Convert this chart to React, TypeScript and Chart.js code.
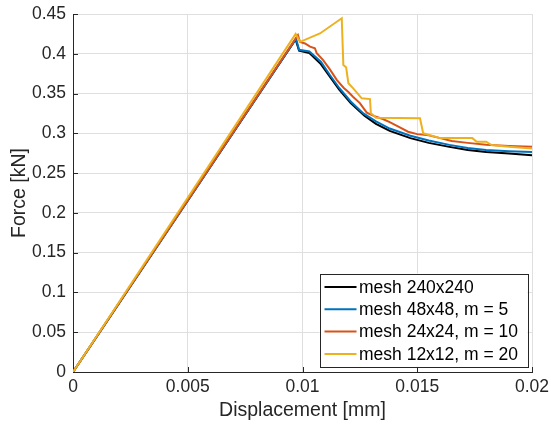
import React, { useEffect, useRef } from "react";
import { Chart, registerables } from "chart.js";

Chart.register(...registerables);

const seriesLabels = ["mesh 240x240", "mesh 48x48, m = 5", "mesh 24x24, m = 10", "mesh 12x12, m = 20"];
const seriesColors = ["#000000", "#0072BD", "#D95319", "#EDB120"];

const dispBlack = [0, 0.0097, 0.00985, 0.0103, 0.0108, 0.0112, 0.0116, 0.0121, 0.0127, 0.0132, 0.0138, 0.0147, 0.0155, 0.0164, 0.0172, 0.018, 0.019, 0.02];
const forceBlack = [0, 0.418, 0.404, 0.401, 0.387, 0.371, 0.355, 0.338, 0.322, 0.312, 0.303, 0.294, 0.288, 0.283, 0.279, 0.2765, 0.2745, 0.2725];

const dispBlue = [0, 0.00972, 0.00985, 0.0103, 0.0108, 0.0112, 0.0116, 0.0121, 0.01265, 0.0132, 0.0138, 0.0147, 0.0155, 0.0164, 0.0172, 0.018, 0.019, 0.02];
const forceBlue = [0, 0.419, 0.405, 0.403, 0.39, 0.373, 0.357, 0.34, 0.325, 0.315, 0.306, 0.297, 0.291, 0.2855, 0.2815, 0.279, 0.2775, 0.2765];

const dispRed = [0, 0.0098, 0.00989, 0.01011, 0.01033, 0.01054, 0.01062, 0.0109, 0.01105, 0.0112, 0.0115, 0.0118, 0.012, 0.0122, 0.0125, 0.0128, 0.0131, 0.0135, 0.0138, 0.0142, 0.0146, 0.015, 0.0155, 0.016, 0.0165, 0.0172, 0.018, 0.019, 0.02];
const forceRed = [0, 0.4235, 0.415, 0.413, 0.409, 0.407, 0.4006, 0.392, 0.386, 0.38, 0.367, 0.357, 0.352, 0.346, 0.338, 0.326, 0.322, 0.318, 0.314, 0.308, 0.302, 0.299, 0.2975, 0.294, 0.2905, 0.288, 0.2855, 0.284, 0.283];

const dispYellow = [0, 0.0097, 0.0099, 0.01076, 0.01171, 0.01178, 0.0119, 0.012, 0.01221, 0.01258, 0.01294, 0.01298, 0.01308, 0.0132, 0.01512, 0.01526, 0.016, 0.0174, 0.01759, 0.018, 0.01824, 0.019, 0.02];
const forceYellow = [0, 0.425, 0.415, 0.4255, 0.4446, 0.386, 0.383, 0.363, 0.3566, 0.344, 0.343, 0.325, 0.323, 0.3195, 0.319, 0.3, 0.294, 0.294, 0.2895, 0.2895, 0.2853, 0.283, 0.281];

const xTickValues = [0, 0.005, 0.01, 0.015, 0.02];
const xTickLabels = ["0", "0.005", "0.01", "0.015", "0.02"];
const yTickValues = [0, 0.05, 0.1, 0.15, 0.2, 0.25, 0.3, 0.35, 0.4, 0.45];
const yTickLabels = ["0", "0.05", "0.1", "0.15", "0.2", "0.25", "0.3", "0.35", "0.4", "0.45"];

const xTitle = "Displacement [mm]";
const yTitle = "Force [kN]";

const FONT = "'Liberation Sans', Arial, Helvetica, sans-serif";
const TEXT = "#262626";
const GRID = "#dfdfdf";

const seriesDisp = [dispBlack, dispBlue, dispRed, dispYellow];
const seriesForce = [forceBlack, forceBlue, forceRed, forceYellow];

const insideTicks = {
  id: "insideTicks",
  beforeDatasetsDraw(chart: any) {
    const { ctx, chartArea, scales } = chart;
    ctx.save();
    ctx.strokeStyle = TEXT;
    ctx.lineWidth = 1;
    ctx.beginPath();
    for (const v of yTickValues) {
      const y = Math.round(scales.y.getPixelForValue(v)) + 0.5;
      ctx.moveTo(chartArea.left, y);
      ctx.lineTo(chartArea.left + 5, y);
    }
    for (const v of xTickValues) {
      const x = Math.round(scales.x.getPixelForValue(v)) + 0.5;
      ctx.moveTo(x, chartArea.bottom);
      ctx.lineTo(x, chartArea.bottom - 5);
    }
    ctx.stroke();
    ctx.restore();
  },
};

const boxLegend = {
  id: "boxLegend",
  afterDraw(chart: any) {
    const { ctx, chartArea } = chart;
    const right = chartArea.right - 4.5;
    const bottom = chartArea.bottom - 5.5;
    const w = 208;
    const h = 93;
    const left = right - w;
    const top = bottom - h;
    ctx.save();
    ctx.fillStyle = "#ffffff";
    ctx.fillRect(left, top, w, h);
    ctx.strokeStyle = TEXT;
    ctx.lineWidth = 1;
    ctx.strokeRect(Math.round(left) + 0.5, Math.round(top) + 0.5, w, h);
    ctx.font = `17.5px ${FONT}`;
    ctx.textBaseline = "middle";
    ctx.textAlign = "left";
    const rowH = 22.3;
    seriesLabels.forEach((lab, i) => {
      const cy = top + 13.5 + i * rowH;
      ctx.strokeStyle = seriesColors[i];
      ctx.lineWidth = 2;
      ctx.beginPath();
      ctx.moveTo(left + 5, cy);
      ctx.lineTo(left + 37, cy);
      ctx.stroke();
      ctx.fillStyle = "#000000";
      ctx.fillText(lab, left + 39.5, cy + 1);
    });
    ctx.restore();
  },
};

export default function App() {
  const ref = useRef<HTMLCanvasElement | null>(null);

  useEffect(() => {
    if (!ref.current) return;
    const datasets = seriesLabels.map((label, i) => ({
      label,
      data: seriesDisp[i].map((x, j) => ({ x, y: seriesForce[i][j] })),
      borderColor: seriesColors[i],
      backgroundColor: seriesColors[i],
      borderWidth: 2,
      pointRadius: 0,
      tension: 0,
      fill: false,
      order: 4 - i,
    }));
    const chart = new Chart(ref.current, {
      type: "line",
      data: { datasets },
      plugins: [insideTicks, boxLegend],
      options: {
        animation: false,
        responsive: false,
        maintainAspectRatio: false,
        layout: { padding: { left: 0, top: 14, right: 19, bottom: 0 } },
        plugins: { legend: { display: false }, tooltip: { enabled: false } },
        scales: {
          x: {
            type: "linear",
            min: 0,
            max: 0.02,
            afterFit: (s: any) => {
              s.height = 53;
            },
            afterBuildTicks: (s: any) => {
              s.ticks = xTickValues.map((v) => ({ value: v }));
            },
            ticks: {
              callback: (_v: any, i: number) => xTickLabels[i],
              font: { family: FONT, size: 17.5 },
              color: TEXT,
              padding: 0,
              maxRotation: 0,
            },
            grid: { color: GRID, drawTicks: true, tickLength: 5, tickColor: "rgba(0,0,0,0)", lineWidth: 1 },
            border: { color: TEXT, width: 1 },
            title: {
              display: true,
              text: xTitle,
              font: { family: FONT, size: 19.5 },
              color: TEXT,
              padding: { top: 0, bottom: 3 },
            },
          },
          y: {
            type: "linear",
            min: 0,
            max: 0.45,
            afterFit: (s: any) => {
              s.width = 73;
            },
            afterBuildTicks: (s: any) => {
              s.ticks = yTickValues.map((v) => ({ value: v }));
            },
            ticks: {
              callback: (_v: any, i: number) => yTickLabels[i],
              font: { family: FONT, size: 17.5 },
              color: TEXT,
              padding: 0,
            },
            grid: { color: GRID, drawTicks: true, tickLength: 7, tickColor: "rgba(0,0,0,0)", lineWidth: 1 },
            border: { color: TEXT, width: 1 },
            title: {
              display: true,
              text: yTitle,
              font: { family: FONT, size: 19.5 },
              color: TEXT,
              padding: { top: 8, bottom: 0 },
            },
          },
        },
      } as any,
    });
    return () => chart.destroy();
  }, []);

  return (
    <div style={{ position: "absolute", left: 0, top: 0, width: 551, height: 425 }}>
      <canvas ref={ref} width={551} height={425} style={{ width: 551, height: 425 }} />
    </div>
  );
}
